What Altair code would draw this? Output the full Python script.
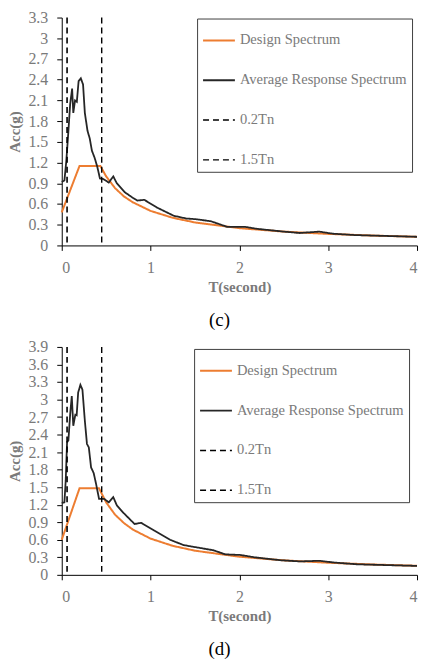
import altair as alt
import pandas as pd

# ---------------- Panel (c) ----------------
c_avg_T = [0, 0.03, 0.05, 0.07, 0.095, 0.117, 0.13, 0.15, 0.17, 0.19, 0.215, 0.24, 0.26,
           0.29, 0.315, 0.34, 0.37, 0.40, 0.43, 0.47, 0.53, 0.58, 0.62, 0.71, 0.80, 0.85,
           0.93, 1.07, 1.26, 1.40, 1.51, 1.68, 1.86, 2.06, 2.20, 2.50, 2.68, 2.90, 3.05,
           3.30, 4.00]
c_avg_acc = [0.92, 0.94, 1.20, 1.56, 2.05, 2.27, 1.92, 2.10, 2.08, 2.38, 2.42, 2.33, 1.92,
             1.66, 1.55, 1.37, 1.27, 1.14, 0.97, 0.96, 0.91, 1.00, 0.90, 0.77, 0.69, 0.65,
             0.66, 0.55, 0.43, 0.39, 0.38, 0.35, 0.27, 0.27, 0.24, 0.20, 0.18, 0.20, 0.17,
             0.15, 0.125]
c_design_T = [0, 0.2, 0.435, 0.5, 0.6, 0.7, 0.8, 1.0, 1.25, 1.5, 2.0, 2.5, 3.0, 3.5, 4.0]
c_design_acc = [0.48, 1.15, 1.15, 1.0, 0.83, 0.71, 0.625, 0.50, 0.40, 0.333, 0.25, 0.20,
                0.167, 0.143, 0.125]
c_marker_T = [0.06, 0.45]
c_y_ticks = [0, 0.3, 0.6, 0.9, 1.2, 1.5, 1.8, 2.1, 2.4, 2.7, 3.0, 3.3]

# ---------------- Panel (d) ----------------
d_avg_T = [0, 0.03, 0.045, 0.06, 0.075, 0.095, 0.113, 0.13, 0.153, 0.168, 0.185, 0.21,
           0.233, 0.26, 0.284, 0.305, 0.33, 0.36, 0.386, 0.42, 0.477, 0.53, 0.58, 0.62,
           0.695, 0.82, 0.895, 1.04, 1.22, 1.37, 1.48, 1.71, 1.84, 2.01, 2.17, 2.46, 2.68,
           2.90, 3.07, 3.33, 3.95, 4.00]
d_avg_acc = [1.23, 1.24, 1.62, 2.27, 2.30, 2.75, 3.06, 2.55, 2.74, 2.73, 3.12, 3.25,
             3.17, 2.64, 2.24, 2.18, 1.84, 1.74, 1.56, 1.30, 1.30, 1.24, 1.33, 1.19,
             1.06, 0.87, 0.89, 0.76, 0.60, 0.51, 0.48, 0.42, 0.35, 0.34, 0.30, 0.25, 0.23,
             0.24, 0.21, 0.18, 0.155, 0.153]
d_design_T = [0, 0.2, 0.42, 0.5, 0.6, 0.7, 0.8, 1.0, 1.25, 1.5, 2.0, 2.5, 3.0, 3.5, 4.0]
d_design_acc = [0.60, 1.48, 1.48, 1.24, 1.03, 0.886, 0.775, 0.62, 0.496, 0.413, 0.31,
                0.248, 0.207, 0.177, 0.155]
d_marker_T = [0.06, 0.45]
d_y_ticks = [0, 0.3, 0.6, 0.9, 1.2, 1.5, 1.8, 2.1, 2.4, 2.7, 3.0, 3.3, 3.6, 3.9]

x_ticks = [0, 1, 2, 3, 4]

series = ["Design Spectrum", "Average Response Spectrum", "0.2Tn", "1.5Tn"]
series_colors = ["#ED7D31", "#262626", "#000000", "#000000"]
series_dashes = [[1, 0], [1, 0], [6, 4], [6, 4]]
series_widths = [2, 1.4, 2, 2]

FONT = "Liberation Serif"
GRAY = "#7a7a7a"


def panel(avg_T, avg_acc, des_T, des_acc, marker_T, y_ticks, caption, lx, ly, ph):
    lines = pd.DataFrame({
        "T": list(des_T) + list(avg_T),
        "acc": list(des_acc) + list(avg_acc),
        "series": [series[0]] * len(des_T) + [series[1]] * len(avg_T),
    })
    rules = pd.DataFrame({"T": marker_T, "series": series[2:4]})

    legend = alt.Legend(
        title=None, orient="none", legendX=lx, legendY=ly,
        symbolType="stroke", symbolSize=1024, labelFont=FONT, labelFontSize=14.6,
        labelColor=GRAY, labelOffset=4, rowPadding=16, padding=5,
        strokeColor="#404040", fillColor="white", labelLimit=0,
    )
    color = alt.Color("series:N", scale=alt.Scale(domain=series, range=series_colors),
                      legend=legend)
    dash = alt.StrokeDash("series:N", scale=alt.Scale(domain=series, range=series_dashes),
                          legend=legend)
    width = alt.StrokeWidth("series:N", scale=alt.Scale(domain=series, range=series_widths),
                            legend=legend)

    xenc = alt.X("T:Q", scale=alt.Scale(domain=[0, 4], nice=False),
                 axis=alt.Axis(values=x_ticks, title="T(second)", format="d",
                               titlePadding=4))

    line_layer = alt.Chart(lines).mark_line().encode(
        x=xenc,
        y=alt.Y("acc:Q", scale=alt.Scale(domain=[0, y_ticks[-1]], nice=False),
                axis=alt.Axis(values=y_ticks, format=".1~f", title="Acc(g)",
                              titlePadding=5)),
        color=color, strokeDash=dash, strokeWidth=width,
        order=alt.Order("T:Q"),
    )
    rule_layer = alt.Chart(rules).mark_rule().encode(
        x=xenc, color=color, strokeDash=dash, strokeWidth=width,
    )
    return alt.layer(line_layer, rule_layer).properties(
        width=357, height=ph,
        title=alt.TitleParams(caption, orient="bottom", anchor="middle", frame="bounds",
                              font=FONT, fontSize=19, fontWeight="normal",
                              color="black", offset=17, dx=5),
    )


top = panel(c_avg_T, c_avg_acc, c_design_T, c_design_acc, c_marker_T, c_y_ticks,
            "(c)", 136, 1, 229)
bottom = panel(d_avg_T, d_avg_acc, d_design_T, d_design_acc, d_marker_T, d_y_ticks,
               "(d)", 133, 2, 229)

chart = alt.vconcat(top, bottom, spacing=9).resolve_scale(
    x="independent", y="independent", color="independent",
    strokeDash="independent", strokeWidth="independent",
).resolve_legend(
    color="independent", strokeDash="independent", strokeWidth="independent",
).properties(
    padding={"left": 0, "top": 0, "right": 0, "bottom": 0},
).configure_axis(
    domainColor="black", tickColor="black", labelFont=FONT, labelFontSize=16,
    labelColor=GRAY, titleFont=FONT, titleFontSize=15, titleColor=GRAY,
    titleFontWeight="bold", grid=False, tickSize=5, labelPadding=9,
).configure_view(stroke=None)

chart.save("out.html", embed_options={"renderer": "svg", "actions": False})
